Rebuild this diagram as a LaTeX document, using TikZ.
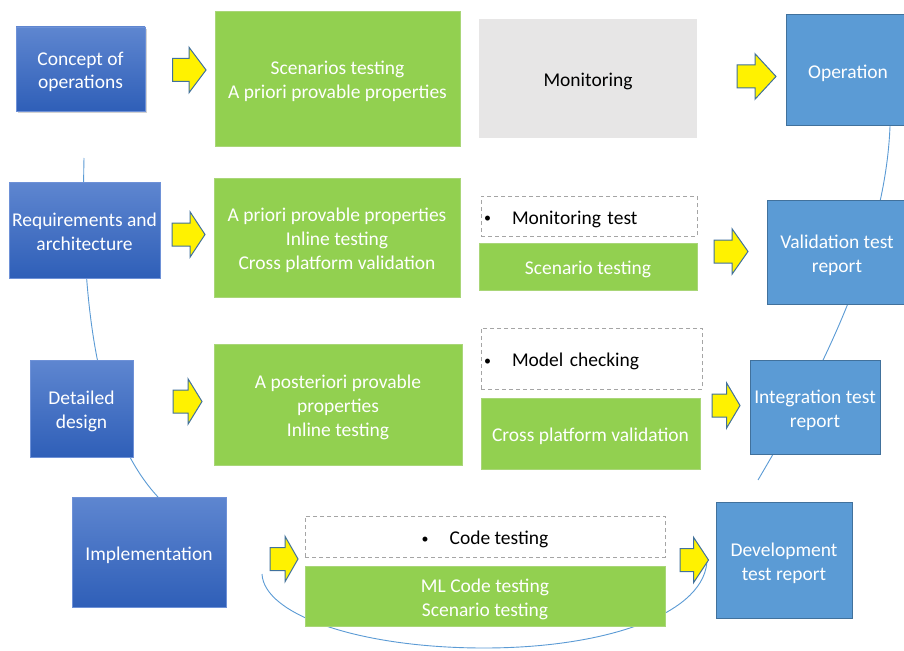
\documentclass[tikz,border=0pt]{standalone}
\usepackage{fontspec}
\setmainfont{Carlito}
\usetikzlibrary{shadows}
\definecolor{bltop}{RGB}{94,134,208}
\definecolor{blbot}{RGB}{47,95,184}
\definecolor{blborder}{RGB}{110,145,215}
\definecolor{rblue}{RGB}{91,155,213}
\definecolor{rborder}{RGB}{65,113,156}
\definecolor{vgreen}{RGB}{146,208,80}
\definecolor{gborder}{RGB}{169,214,120}
\definecolor{lgray}{RGB}{231,230,230}
\definecolor{dgray}{RGB}{165,165,165}
\definecolor{curvecol}{RGB}{91,155,213}
\definecolor{arrline}{RGB}{65,113,156}
\newcommand\TT{\rule{0pt}{20pt}}
\newcommand\BB{\rule[-4pt]{0pt}{4pt}}
\newcommand\smallbullet{\raisebox{1.5pt}{\fontsize{14}{14}\selectfont •}}
% block arrow: name, tail x, centre y, shaft length, head length
\newcommand\blockarrow[5]{%
  \coordinate (#1) at (#2,#3);
  \draw[yarrowsty] (#1) ++(0,-11.5) -- ++(#4,0) -- ++(0,-11.25) -- ++(#5,22.75)
    -- ++(-#5,22.75) -- ++(0,-11.25) -- ++(-#4,0) -- cycle;}
\begin{document}
\begin{tikzpicture}[x=1pt,y=-1pt,
  every node/.style={font=\fontsize{19.5}{24}\selectfont, inner sep=2pt, align=center},
  leftbox/.style={rectangle, top color=bltop, bottom color=blbot, draw=blborder, line width=0.8pt, text=white},
  rightbox/.style={rectangle, fill=rblue, draw=rborder, line width=1pt, text=white},
  greenbox/.style={rectangle, fill=vgreen, draw=gborder, line width=0.6pt, text=white},
  graybox/.style={rectangle, fill=lgray, text=black},
  dashbox/.style={rectangle, draw=dgray, line width=1pt, dash pattern=on 4pt off 3pt, fill=white, text=black},
  yarrowsty/.style={fill=yellow, draw=arrline, line width=1pt, line join=miter},
  curve/.style={draw=curvecol, line width=0.9pt}
]
\fill[white] (0,0) rectangle (904,650);
\useasboundingbox (0,0) rectangle (904,650);

% background V curve
\coordinate (la) at (84,158);
\coordinate (lb) at (158,497);
\draw[curve] (la) .. controls (80,330) and (105,440) .. (lb);
\coordinate (ba) at (262,574);
\coordinate (bm) at (484,648);
\coordinate (bb) at (707,558);
\draw[curve] (ba) .. controls (264,615) and (360,648) .. (bm) .. controls (610,648) and (708,612) .. (bb);
\coordinate (ra) at (758,480);
\coordinate (rb) at (890,126);
\draw[curve] (ra) .. controls (805,400) and (885,260) .. (rb);

% left column
\node[leftbox, minimum width=129pt, minimum height=84pt,
  drop shadow={opacity=0.35, shadow xshift=1.5pt, shadow yshift=-2pt}] (c1) at (80.5,69) {\TT Concept of\\operations\BB};
\node[leftbox, minimum width=151pt, minimum height=96pt] (c2) at (84.5,230) {\TT Requirements and\\architecture\BB};
\node[leftbox, minimum width=103pt, minimum height=97pt] (c3) at (81.5,408.5) {\TT Detailed\\design\BB};
\node[leftbox, minimum width=154pt, minimum height=110pt] (c4) at (149,552) {\TT Implementation\BB};

% middle column
\node[greenbox, minimum width=245pt, minimum height=135pt] (g1) at (337.5,78.5) {\TT Scenarios testing\\A priori provable properties\BB};
\node[greenbox, minimum width=246pt, minimum height=119pt] (g2) at (337,237.5) {\TT A priori provable properties\\Inline testing\\Cross platform validation\BB};
\node[greenbox, minimum width=248pt, minimum height=121pt] (g3) at (338,404.5) {\TT A posteriori provable\\properties\\Inline testing\BB};

\node[graybox, minimum width=218pt, minimum height=119pt] (m1) at (588,78.5) {\TT Monitoring\BB};
\node[dashbox, minimum width=216pt, minimum height=40pt, inner xsep=3pt, text width=210pt, align=left] (d1) at (589,216) {\TT\makebox[28pt][l]{\smallbullet}Monitoring test\BB};
\node[greenbox, minimum width=218pt, minimum height=47pt] (g4) at (588,266.5) {\TT Scenario testing\BB};
\node[dashbox, minimum width=221pt, minimum height=61pt, inner xsep=3pt, text width=215pt, align=left] (d2) at (591.5,358.5) {\TT\makebox[28pt][l]{\smallbullet}Model checking\BB};
\node[greenbox, minimum width=219pt, minimum height=71pt] (g5) at (590.5,433.5) {\TT Cross platform validation\BB};
\node[dashbox, minimum width=360pt, minimum height=41pt] (d3) at (485,536.5) {\TT\makebox[28pt][l]{\smallbullet}Code testing\BB};
\node[greenbox, minimum width=360pt, minimum height=60pt] (g6) at (485,596) {\TT ML Code testing\\Scenario testing\BB};

% right column
\node[rightbox, minimum width=124pt, minimum height=111pt] (r1) at (848,70.5) {\TT Operation\BB};
\node[rightbox, minimum width=140pt, minimum height=104pt] (r2) at (837,252) {\TT Validation test\\report\BB};
\node[rightbox, minimum width=130pt, minimum height=94pt] (r3) at (815,407) {\TT Integration test\\report\BB};
\node[rightbox, minimum width=136pt, minimum height=116pt] (r4) at (784,560) {\TT Development\\test report\BB};

% yellow block arrows
\blockarrow{a1}{172.5}{70}{16.5}{17}
\blockarrow{a2}{172}{234.5}{18}{15}
\blockarrow{a3}{173}{401.5}{15}{14}
\blockarrow{a4}{270}{559}{15}{13}
\blockarrow{a5}{737}{76.5}{18}{21}
\blockarrow{a6}{714}{251.5}{18}{16}
\blockarrow{a7}{712}{405.5}{14.5}{13.5}
\blockarrow{a8}{680}{560}{13.5}{15}
\end{tikzpicture}
\end{document}
